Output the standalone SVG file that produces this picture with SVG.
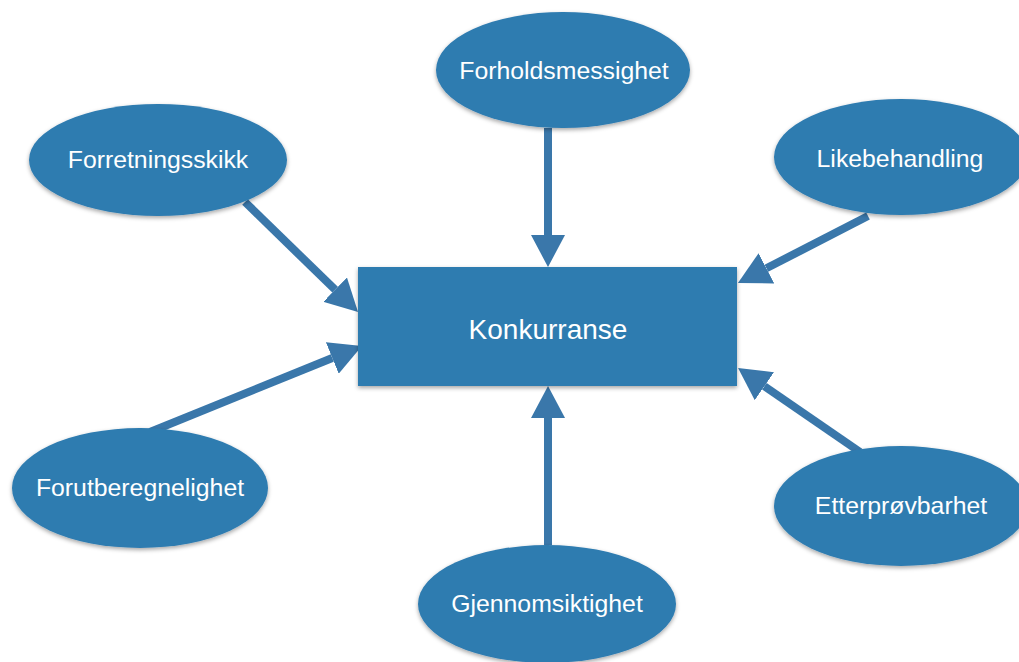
<svg xmlns="http://www.w3.org/2000/svg" width="1019" height="662" viewBox="0 0 1019 662">
  <style>
    .shape { fill: #2e7bb0; filter: url(#shadow); }
    .lbl { font-family: "Liberation Sans", Arial, sans-serif; font-size: 24.8px; fill: #ffffff; text-anchor: middle; }
    .main { font-size: 28px; }
    .conn { stroke: #3a77aa; stroke-width: 8; fill: none; marker-end: url(#head); }
  </style>
  <defs>
    <filter id="shadow" x="-10%" y="-10%" width="120%" height="130%">
      <feDropShadow dx="0" dy="2" stdDeviation="2" flood-color="#000" flood-opacity="0.35"/>
    </filter>
    <marker id="head" markerUnits="userSpaceOnUse" markerWidth="34" markerHeight="34" refX="0" refY="17" orient="auto" viewBox="0 0 34 34">
      <path d="M0,0 L32,17 L0,34 Z" fill="#3a77aa"/>
    </marker>
  </defs>
  <rect width="1019" height="662" fill="#ffffff"/>

  <g id="connectors">
    <line class="conn" x1="548" y1="128" x2="548" y2="235"/>
    <line class="conn" x1="548" y1="545" x2="548" y2="418"/>
    <line class="conn" x1="245" y1="202" x2="335.1" y2="289.7"/>
    <line class="conn" x1="868" y1="216" x2="766.4" y2="268.3"/>
    <line class="conn" x1="150" y1="432" x2="332.3" y2="358.0"/>
    <line class="conn" x1="860" y1="452" x2="764.4" y2="386.2"/>
  </g>

  <g id="konkurranse">
    <rect class="shape" x="358" y="267" width="379" height="119"/>
    <text class="lbl main" x="548" y="339">Konkurranse</text>
  </g>
  <g id="forholdsmessighet">
    <ellipse class="shape" cx="563" cy="70" rx="127" ry="58"/>
    <text class="lbl" x="564" y="79">Forholdsmessighet</text>
  </g>
  <g id="forretningsskikk">
    <ellipse class="shape" cx="158" cy="160" rx="129" ry="56"/>
    <text class="lbl" x="158" y="168">Forretningsskikk</text>
  </g>
  <g id="likebehandling">
    <ellipse class="shape" cx="901" cy="157" rx="127" ry="58"/>
    <text class="lbl" x="900" y="167">Likebehandling</text>
  </g>
  <g id="forutberegnelighet">
    <ellipse class="shape" cx="140" cy="488" rx="128" ry="60"/>
    <text class="lbl" x="140" y="496">Forutberegnelighet</text>
  </g>
  <g id="etterprovbarhet">
    <ellipse class="shape" cx="901" cy="506" rx="127" ry="60"/>
    <text class="lbl" x="901" y="514">Etterprøvbarhet</text>
  </g>
  <g id="gjennomsiktighet">
    <ellipse class="shape" cx="547" cy="604" rx="129" ry="59"/>
    <text class="lbl" x="547" y="612">Gjennomsiktighet</text>
  </g>
</svg>
